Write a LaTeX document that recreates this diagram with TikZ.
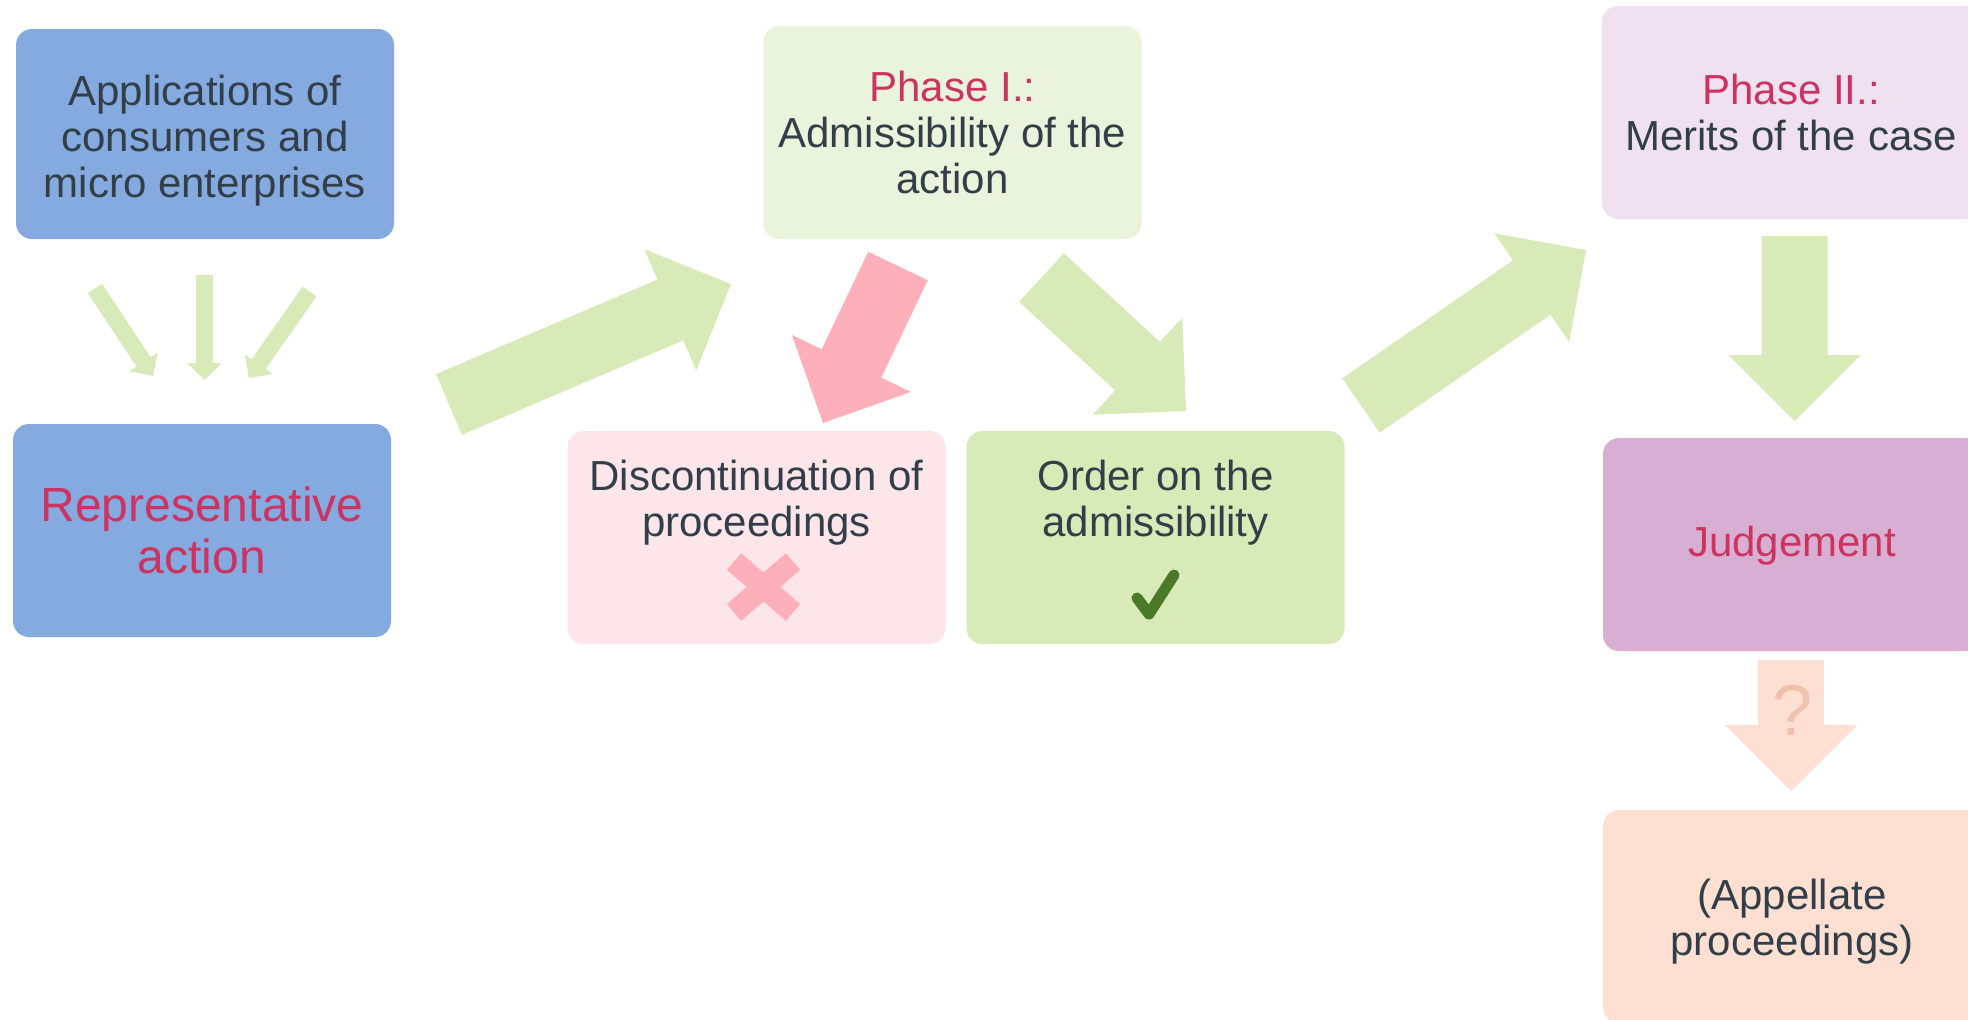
\documentclass[tikz,border=0pt]{standalone}
\usepackage{fontspec}
\setmainfont{Liberation Sans}
\usetikzlibrary{calc}
\definecolor{blueBox}{HTML}{85AADF}
\definecolor{pinkTxt}{HTML}{CC3360}
\definecolor{darkTxt}{HTML}{323E48}
\definecolor{phOneFill}{HTML}{EAF3DB}
\definecolor{greenFill}{HTML}{D9EAB9}
\definecolor{pinkFill}{HTML}{FDB0B9}
\definecolor{discFill}{HTML}{FDE6E9}
\definecolor{phTwoFill}{HTML}{EFE1EF}
\definecolor{judgFill}{HTML}{D8AFD2}
\definecolor{orangeFill}{HTML}{FDE0D1}
\definecolor{qColor}{HTML}{F0C2AE}
\definecolor{checkColor}{HTML}{4A7A28}
\tikzset{
  box/.style={rounded corners=8pt, minimum width=189pt, minimum height=106.5pt,
    inner sep=0pt, align=center, text=darkTxt, font=\fontsize{21}{23}\selectfont},
  boxtext/.style={inner sep=0pt, align=center, text=darkTxt, font=\fontsize{21}{23}\selectfont},
}
% #1 tail, #2 tip, #3 shaft half width, #4 head half width, #5 head length, #6 fill
\newcommand\blockarr[6]{%
  \coordinate (ba-h) at ($(#2)!#5!(#1)$);
  \fill[#6] ($(#1)!#3!90:(#2)$) -- ($(ba-h)!#3!90:(#2)$) -- ($(ba-h)!#4!90:(#2)$)
    -- (#2) -- ($(ba-h)!#4!-90:(#2)$) -- ($(ba-h)!#3!-90:(#2)$)
    -- ($(#1)!#3!-90:(#2)$) -- cycle;}
\begin{document}
\begin{tikzpicture}[x=0.5pt,y=-0.5pt]
\useasboundingbox (0,0) rectangle (1968,1019);
\fill[white] (0,0) rectangle (1968,1019);
\clip (0,0) rectangle (1968,1019);

% boxes
\node[box, fill=blueBox, minimum height=105pt] (app) at (205,134) {};
\node[boxtext] (appt) at (205,141) {Applications of\\consumers and\\micro enterprises};
\node[box, fill=blueBox, text=pinkTxt, font=\fontsize{24}{26}\selectfont] (rep) at (202,530.5)
  {Representative\\action};
\node[box, fill=phOneFill] (ph1) at (952.5,132.5)
  {{\color{pinkTxt}Phase I.:}\\Admissibility of the\\action};
\node[box, fill=discFill] (disc) at (756.5,537.5) {};
\node[boxtext] (disct) at (756.5,503) {Discontinuation of\\proceedings};
\node[box, fill=greenFill] (order) at (1155.5,537.5) {};
\node[boxtext] (ordert) at (1155.5,503) {Order on the\\admissibility};
\node[box, fill=phTwoFill] (ph2) at (1791,112.5)
  {{\color{pinkTxt}Phase II.:}\\Merits of the case};
\node[box, fill=judgFill] (judg) at (1792,544.5) {};
\node[boxtext, text=pinkTxt] (judgt) at (1792,546) {Judgement};
\node[box, fill=orangeFill] (appel) at (1792,916.5) {};
\node[boxtext] (appelt) at (1792,922) {(Appellate\\proceedings)};

% cross and check
\draw[pinkFill, line width=11pt] (734,561.5) -- (793,612.5);
\draw[pinkFill, line width=11pt] (734,612.5) -- (793,561.5);
\draw[checkColor, line width=5.5pt, line cap=round, line join=round]
  (1137,598) -- (1149,614) -- (1174,575);

% small arrows
\coordinate (s1a) at (95,288.5);   \coordinate (s1b) at (153,376);
\coordinate (s2a) at (204.5,275);  \coordinate (s2b) at (204.5,380);
\coordinate (s3a) at (309.5,291.5);\coordinate (s3b) at (249,378);
\blockarr{s1a}{s1b}{4.25pt}{8.5pt}{8.5pt}{greenFill}
\blockarr{s2a}{s2b}{4.25pt}{8.5pt}{8.5pt}{greenFill}
\blockarr{s3a}{s3b}{4.25pt}{8.5pt}{8.5pt}{greenFill}

% big arrows
\coordinate (b1a) at (449,404.5);   \coordinate (b1b) at (731,284);
\coordinate (b2a) at (898,266);     \coordinate (b2b) at (823,423);
\coordinate (b3a) at (1041.5,277.5);\coordinate (b3b) at (1186,411);
\coordinate (b4a) at (1361,405.5);  \coordinate (b4b) at (1586,250);
\coordinate (b5a) at (1794.5,236);  \coordinate (b5b) at (1794.5,421);
\coordinate (b6a) at (1791,660);    \coordinate (b6b) at (1791,791);
\blockarr{b1a}{b1b}{16.5pt}{33pt}{33pt}{greenFill}
\blockarr{b2a}{b2b}{16.5pt}{33pt}{33pt}{pinkFill}
\blockarr{b3a}{b3b}{16.5pt}{33pt}{33pt}{greenFill}
\blockarr{b4a}{b4b}{16.5pt}{33pt}{33pt}{greenFill}
\blockarr{b5a}{b5b}{16.5pt}{33pt}{33pt}{greenFill}
\blockarr{b6a}{b6b}{16.5pt}{33pt}{33pt}{orangeFill}
\node[text=qColor, font=\fontsize{36}{36}\selectfont, inner sep=0pt] (q) at (1792,710) {?};
\end{tikzpicture}
\end{document}
